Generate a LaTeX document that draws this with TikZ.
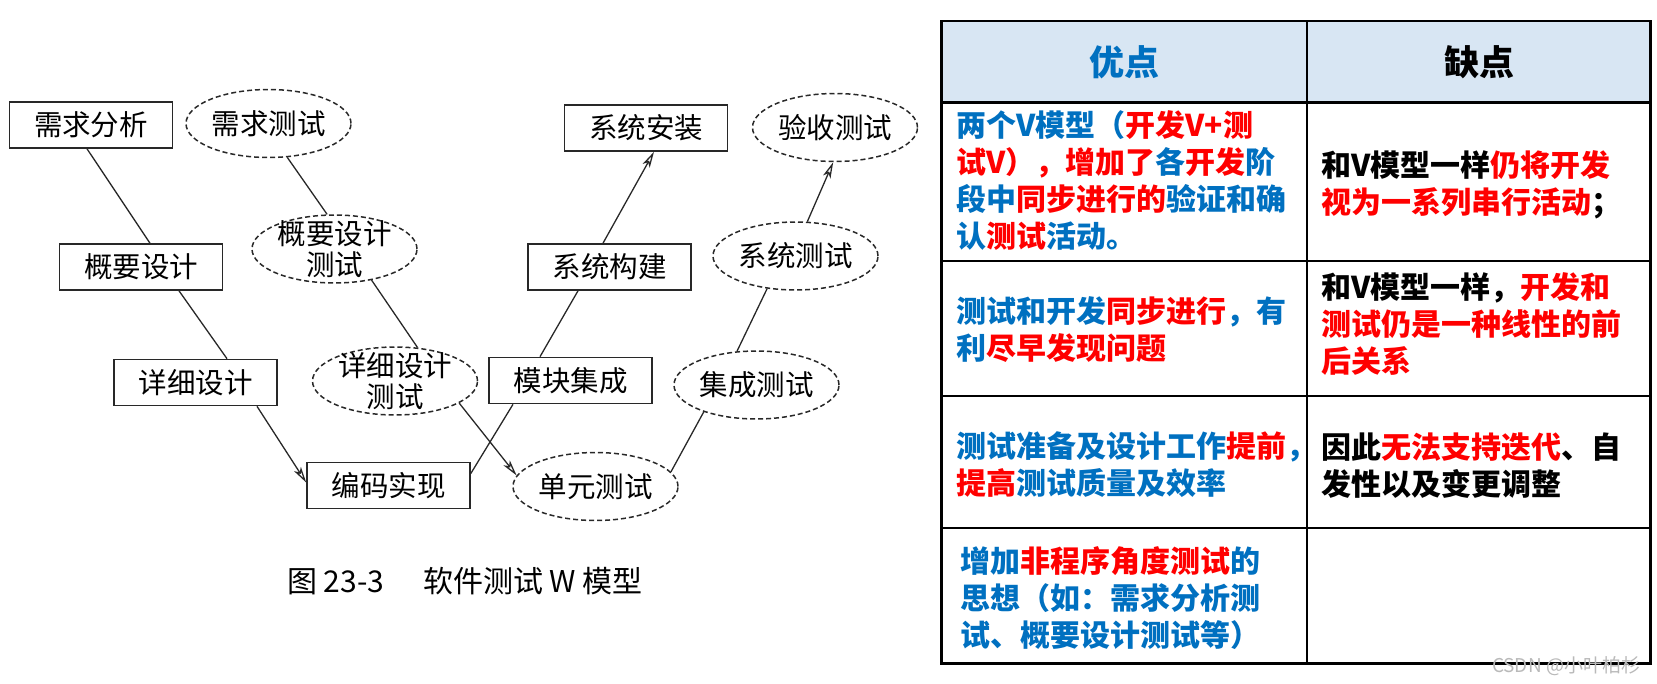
\documentclass[tikz,border=0pt]{standalone}
\usepackage{fontspec}
\newfontfamily\cjk{Noto Sans CJK SC}
\usetikzlibrary{shapes.geometric,arrows.meta}

\definecolor{ptblue}{RGB}{0,112,192}
\definecolor{ptred}{RGB}{255,0,0}
\definecolor{hdbg}{RGB}{216,230,243}
\definecolor{scan}{RGB}{40,40,40}
\newcommand{\colb}[1]{\textcolor{ptblue}{#1}}
\newcommand{\colr}[1]{\textcolor{ptred}{#1}}

\begin{document}
\begin{tikzpicture}[x=1pt, y=-1pt,
  every node/.style={font=\cjk\fontsize{28.5}{31}\selectfont},
  stage/.style={draw=scan, line width=1.6pt, rectangle, minimum width=163pt, minimum height=46pt, inner sep=0pt},
  check/.style={draw=scan, line width=1.5pt, dash pattern=on 5pt off 3pt, ellipse, minimum width=165pt, minimum height=68pt, inner xsep=0pt, inner ysep=-12pt, align=center},
  link/.style={draw=scan, line width=1.3pt},
  flow/.style={link, -{Stealth[open, length=16pt, width=8pt, inset=4pt]}},
  cell/.style={anchor=west, align=left, inner sep=0pt, font=\cjk\bfseries\fontsize{30}{37}\selectfont},
  head/.style={inner sep=0pt, font=\cjk\bfseries\fontsize{35}{40}\selectfont}]

  \useasboundingbox (0,0) rectangle (1657,683);

  % Development side of the W
  \node[stage] (xqfx) at (91,125) {需求分析};
  \node[stage] (gysj) at (141,267) {概要设计};
  \node[stage] (xxsj) at (195.5,382.5) {详细设计};
  \node[stage] (bmsx) at (388.5,485.5) {编码实现};
  \node[stage] (mkjc) at (570.5,380.5) {模块集成};
  \node[stage] (xtgj) at (609.5,267) {系统构建};
  \node[stage] (xtaz) at (646,128) {系统安装};

  % Test side of the W
  \node[check] (xqcs) at (268.5,123.5) {需求测试};
  \node[check] (gysjcs) at (334.5,249) {概要设计\\测试};
  \node[check] (xxsjcs) at (395,381) {详细设计\\测试};
  \node[check] (dycs) at (595.5,486.5) {单元测试};
  \node[check] (jccs) at (756.5,385) {集成测试};
  \node[check] (xtcs) at (795.5,256) {系统测试};
  \node[check] (yscs) at (835,127.5) {验收测试};

  % Development connectors
  \draw[link] ([xshift=-4pt]xqfx.south) -- ([xshift=9pt]gysj.north);
  \draw[link] ([xshift=38pt]gysj.south) -- ([xshift=31.5pt]xxsj.north);
  \draw[flow] ([xshift=61.5pt]xxsj.south) -- ([yshift=3pt]bmsx.west);
  \draw[link] ([yshift=12pt]bmsx.east) -- ([xshift=-57.5pt]mkjc.south);
  \draw[link] ([xshift=-30.5pt]mkjc.north) -- ([xshift=-31.5pt]xtgj.south);
  \draw[flow] ([xshift=-6.5pt]xtgj.north) -- ([xshift=8pt]xtaz.south);

  % Test connectors
  \draw[link] (xqcs.-61) -- (gysjcs.102);
  \draw[link] (gysjcs.-40) -- (xxsjcs.56);
  \draw[flow] (xxsjcs.-19) -- (dycs.172);
  \draw[link] (dycs.11) -- (jccs.-153);
  \draw[link] (jccs.120) -- (xtcs.-131);
  \draw[flow] (xtcs.71) -- (yscs.-93);

  % Caption
  \node[font=\cjk\fontsize{30}{34}\selectfont] (cap) at (465,581.5) {图 23-3\hspace{1.3em}软件测试 W 模型};

  % Table of pros and cons
  \fill[hdbg] (941.6,21) rectangle (1650.7,102.5);
  \draw[line width=2.5pt] (941.6,21) rectangle (1650.7,663.6);
  \foreach \y in {102.5,261,396,528}
    \draw[line width=2.5pt] (941.6,\y) -- (1650.7,\y);
  \draw[line width=2.5pt] (1307,21) -- (1307,663.6);

  \node[head, text=ptblue] (pros) at (1124,62) {优点};
  \node[head] (cons) at (1479,62) {缺点};

  \node[cell] (pro1) at (956,180) {\colb{两个V模型（}\colr{开发V+测}\\
    \colr{试V），增加了}\colb{各}\colr{开发}\colb{阶}\\
    \colb{段中}\colr{同步进行的}\colb{验证和确}\\
    \colb{认}\colr{测试}\colb{活动。}};
  \node[cell] (con1) at (1321,185) {和V模型一样\colr{仍将开发}\\
    \colr{视为一系列串行活动}；};

  \node[cell] (pro2) at (956,329.5) {\colb{测试和开发}\colr{同步进行}\colb{，有}\\
    \colb{利}\colr{尽早发现问题}};
  \node[cell] (con2) at (1321,324) {和V模型一样，\colr{开发和}\\
    \colr{测试仍是一种线性的前}\\
    \colr{后关系}};

  \node[cell] (pro3) at (956,465) {\colb{测试准备及设计工作}\colr{提前}\colb{，}\\
    \colr{提高}\colb{测试质量及效率}};
  \node[cell] (con3) at (1321,466) {因此\colr{无法支持迭代}、自\\
    发性以及变更调整};

  \node[cell] (pro4) at (960,598) {\colb{增加}\colr{非程序角度测试}\colb{的}\\
    \colb{思想（如：需求分析测}\\
    \colb{试、概要设计测试等）}};

  % Watermark
  \node[text=gray!55, font=\cjk\fontsize{19}{22}\selectfont] (mark) at (1566,666) {CSDN @小叶柏杉};

\end{tikzpicture}
\end{document}
